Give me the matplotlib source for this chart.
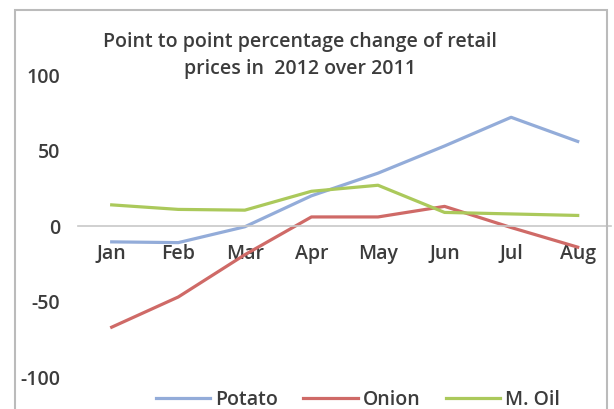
import matplotlib.pyplot as plt
from matplotlib.patches import Rectangle

months = ["Jan", "Feb", "Mar", "Apr", "May", "Jun", "Jul", "Aug"]
potato = [-10.5, -11, -0.5, 20, 35, 53, 72, 56]
onion = [-67, -47, -19, 6, 6, 13, -1, -14]
m_oil = [14, 11, 10.5, 23, 27, 9, 8, 7]

plt.rcParams['font.family'] = ['Open Sans', 'DejaVu Sans']
plt.rcParams['font.weight'] = 'semibold'
plt.rcParams['axes.unicode_minus'] = False
txt = '#3c3c3c'

fig = plt.figure(figsize=(6.14, 4.09), dpi=100)
ax = fig.add_axes([0.1277, 0.0782, 0.8674, 0.7384])

x = range(len(months))
ax.plot(x, potato, color='#93acd9', lw=2.3, label='Potato')
ax.plot(x, onion, color='#cf6a67', lw=2.3, label='Onion')
ax.plot(x, m_oil, color='#abc95b', lw=2.3, label='M. Oil')

ax.set_xlim(-0.5, 7.5)
ax.set_ylim(-100, 100)
ax.set_yticks([-100, -50, 0, 50, 100])
ax.set_xticks(list(x))
ax.set_xticklabels(months)

for s in ['top', 'right', 'left']:
    ax.spines[s].set_visible(False)
ax.spines['bottom'].set_position(('data', 0))
ax.spines['bottom'].set_color('#c8c8c8')
ax.spines['bottom'].set_linewidth(1.2)
ax.tick_params(axis='x', length=0, pad=13, labelsize=14, labelcolor=txt)
ax.tick_params(axis='y', length=0, pad=13, labelsize=14, labelcolor=txt)

fig.text(0.489, 0.897, "Point to point percentage change of retail",
         ha='center', va='center', fontsize=14, color=txt)
fig.text(0.489, 0.831, "prices in  2012 over 2011",
         ha='center', va='center', fontsize=14, color=txt)

fig.legend(loc='center', bbox_to_anchor=(0.583, 0.022), ncol=3, frameon=False,
           fontsize=14, handlelength=2.8, handletextpad=0.25,
           columnspacing=1.3, labelcolor=txt)

fig.patches.append(Rectangle((0.0244, -0.1), 0.964, 1.0756, transform=fig.transFigure,
                             fill=False, edgecolor='#bbbbbb', lw=1.5))

fig.savefig('out.png', dpi=100)
